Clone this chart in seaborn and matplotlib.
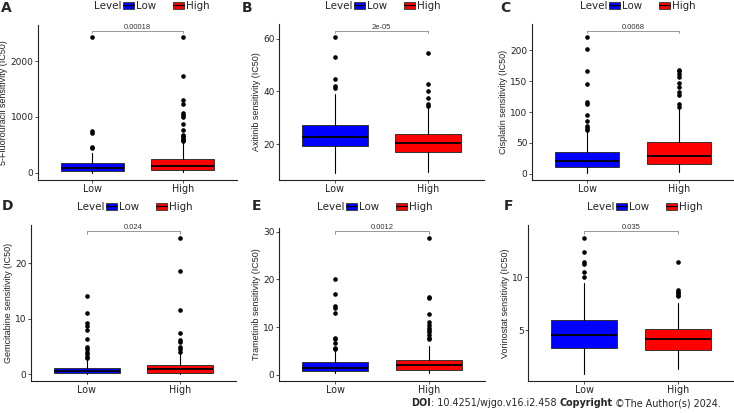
import matplotlib
matplotlib.use("Agg")
import matplotlib.pyplot as plt
import seaborn as sns
from matplotlib.patches import Patch
from matplotlib.lines import Line2D

# drugs, labels and p-values
drugs = ["5-Fluorouracil", "Axitinib", "Cisplatin", "Gemcitabine", "Trametinib", "Vorinostat"]
panel_letters = ["A", "B", "C", "D", "E", "F"]
p_values = ["0.00018", "2e-05", "0.0068", "0.024", "0.0012", "0.035"]
levels = ["Low", "High"]
level_colors = ["#0000FF", "#FF0000"]

# box summaries: [whisker low, q1, median, q3, whisker high]
fu_low = [3, 25, 90, 167, 345]
fu_high = [8, 48, 125, 251, 555]
axitinib_low = [9.3, 19.4, 22.6, 27.3, 38.9]
axitinib_high = [9.7, 17.1, 20.6, 23.8, 33.6]
cisplatin_low = [2, 11.8, 21.5, 35, 68]
cisplatin_high = [3, 15.6, 29, 51, 106]
gemcitabine_low = [0.02, 0.18, 0.6, 1.14, 2.6]
gemcitabine_high = [0.02, 0.3, 0.96, 1.7, 3.6]
trametinib_low = [0.35, 0.84, 1.47, 2.7, 5.0]
trametinib_high = [0.4, 1.05, 1.96, 3.2, 6.1]
vorinostat_low = [0.82, 3.26, 4.49, 5.95, 9.5]
vorinostat_high = [1.3, 3.1, 4.1, 5.1, 7.6]

# outliers
fu_low_out = [440, 465, 704, 746, 2436]
fu_high_out = [570, 590, 610, 635, 657, 675, 764, 872, 991, 1030, 1063, 1230, 1301, 1731, 2436]
axitinib_low_out = [41.2, 42.1, 44.6, 52.9, 60.7]
axitinib_high_out = [34.5, 35.1, 37.4, 40.3, 42.8, 54.4]
cisplatin_low_out = [71, 75, 77, 86, 95, 113, 116.7, 145, 166, 201, 220.4]
cisplatin_high_out = [108.6, 113, 127, 133, 140, 147, 156, 162, 166, 168]
gemcitabine_low_out = [2.9, 3.2, 3.6, 4.1, 4.5, 5.0, 6.4, 8.0, 8.7, 9.2, 11.0, 14.1]
gemcitabine_high_out = [4.1, 4.5, 5.0, 5.9, 6.2, 7.5, 11.5, 18.6, 24.5]
trametinib_low_out = [5.4, 5.6, 6.7, 7.5, 7.8, 13.0, 14.1, 14.4, 16.9, 20.1]
trametinib_high_out = [7.6, 7.8, 8.4, 8.9, 9.4, 9.9, 10.5, 11.0, 12.8, 16.1, 16.4, 28.8]
vorinostat_low_out = [10.0, 10.5, 11.3, 11.5, 12.37, 13.77]
vorinostat_high_out = [8.2, 8.3, 8.5, 8.6, 8.8, 11.5]

y_ticks = [[0, 1000, 2000], [20, 40, 60], [0, 50, 100, 150, 200],
           [0, 10, 20], [0, 10, 20, 30], [5, 10]]

boxes = [(fu_low, fu_high), (axitinib_low, axitinib_high), (cisplatin_low, cisplatin_high),
         (gemcitabine_low, gemcitabine_high), (trametinib_low, trametinib_high),
         (vorinostat_low, vorinostat_high)]
outs = [(fu_low_out, fu_high_out), (axitinib_low_out, axitinib_high_out),
        (cisplatin_low_out, cisplatin_high_out), (gemcitabine_low_out, gemcitabine_high_out),
        (trametinib_low_out, trametinib_high_out), (vorinostat_low_out, vorinostat_high_out)]

# layout (pixels of a 734x413 canvas)
W, H = 734, 413
panel_px = [(38, 237, 180, 25), (279, 484, 180, 24), (532, 734, 180, 24),
            (31, 236, 381, 225), (279, 485, 381, 228), (528, 734, 381, 225)]
y_limits = [(-131, 2647), (6.5, 65.5), (-9.7, 242), (-1.2, 26.9), (-1.3, 30.8), (0.16, 14.97)]
bracket = [(2498, 2545), (62.0, 63.0), (227, 231), (25.3, 25.8), (29.6, 30.2), (14.1, 14.4)]
letter_px = [(1, 8), (242, 8), (500, 8), (2, 206), (252, 206), (504, 206)]
legend_px = [(123, 6), (354, 6), (609, 6), (106, 207), (346, 207), (616, 207)]

sns.set_theme(style="ticks")
plt.rcParams['font.family'] = ['DejaVu Sans']

fig = plt.figure(figsize=(W / 100, H / 100), dpi=100)

for i, drug in enumerate(drugs):
    l, r, b, t = panel_px[i]
    ax = fig.add_axes([l / W, 1 - b / H, (r - l) / W, (b - t) / H])
    stats = []
    for j in range(2):
        lo, q1, med, q3, hi = boxes[i][j]
        stats.append(dict(whislo=lo, q1=q1, med=med, q3=q3, whishi=hi, fliers=outs[i][j]))
    bp = ax.bxp(stats, positions=[0, 1], widths=0.7, patch_artist=True,
                boxprops=dict(edgecolor="#333333", linewidth=0.7),
                medianprops=dict(color="black", linewidth=1.3),
                whiskerprops=dict(color="black", linewidth=0.8),
                capprops=dict(linewidth=0),
                flierprops=dict(marker="o", markersize=2.3, markerfacecolor="black",
                                markeredgecolor="black", linestyle="none"))
    for patch, c in zip(bp["boxes"], level_colors):
        patch.set_facecolor(c)

    ax.set_xlim(-0.6, 1.6)
    ax.set_ylim(*y_limits[i])
    ax.set_xticks([0, 1])
    ax.set_xticklabels(levels, fontsize=6.9, color="#222222")
    ax.set_yticks(y_ticks[i])
    ax.tick_params(axis="y", labelsize=6.5, labelcolor="#222222")
    ax.tick_params(length=2.2, width=0.6, color="#333333", pad=1)
    ax.set_ylabel(f"{drug} sensitivity (IC50)", fontsize=6.5, family="Liberation Sans",
                  color="#222222", labelpad=1.5)
    sns.despine(ax=ax)
    for s in ["left", "bottom"]:
        ax.spines[s].set_color("#222222")
        ax.spines[s].set_linewidth(0.8)

    # p-value bracket
    y0, y1 = bracket[i]
    ax.plot([0, 0, 1, 1], [y0, y1, y1, y0], color="#888888", lw=0.6, clip_on=False)
    ax.text(0.5, y1, p_values[i], ha="center", va="bottom", fontsize=5.5,
            family="Liberation Sans", color="#333333")

    # panel letter
    lx, ly = letter_px[i]
    fig.text(lx / W, 1 - ly / H, panel_letters[i], fontsize=10, fontweight="bold",
             ha="left", va="center")

    # legend
    gx, gy = legend_px[i]
    handles = [(Patch(facecolor=c, edgecolor="#333333", lw=0.6),
                Line2D([], [], color="black", lw=0.9)) for c in level_colors]
    fig.legend(handles, levels, loc="center left", bbox_to_anchor=(gx / W, 1 - gy / H),
               ncol=2, frameon=False, fontsize=7.4, handlelength=1.05, handleheight=0.75,
               handletextpad=0.25, columnspacing=1.6, borderpad=0, borderaxespad=0)
    fig.text((gx - 1.5) / W, 1 - gy / H, "Level", fontsize=7.5, ha="right", va="center")

# footer
foot_y = 1 - 403.5 / H
t1 = fig.text(411 / W, foot_y, "DOI", fontsize=6.95, fontweight="bold", va="center")
t2 = fig.text(0, foot_y, ": 10.4251/wjgo.v16.i2.458 ", fontsize=6.95, va="center")
t3 = fig.text(0, foot_y, "Copyright", fontsize=6.95, fontweight="bold", va="center")
t4 = fig.text(0, foot_y, " \u00a9The Author(s) 2024.", fontsize=6.95, va="center")
fig.canvas.draw()
rend = fig.canvas.get_renderer()
prev = t1
for t in [t2, t3, t4]:
    bb = prev.get_window_extent(rend)
    t.set_position((bb.x1 / fig.bbox.width, foot_y))
    prev = t

fig.savefig("out.png", dpi=100)
